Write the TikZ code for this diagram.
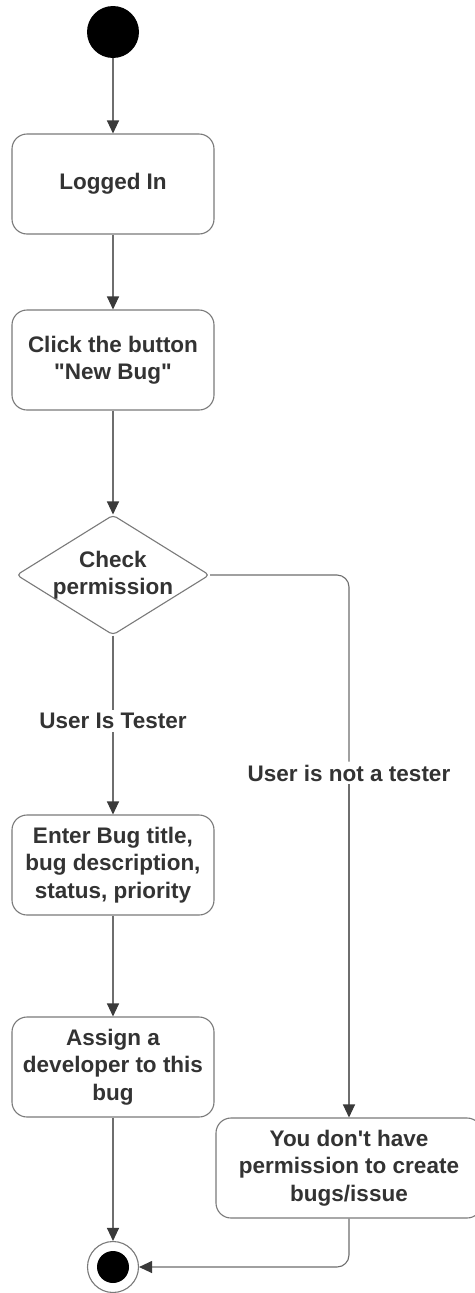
\documentclass[tikz,border=0pt]{standalone}
\usepackage{fontspec}
\setmainfont{Liberation Sans}
\usetikzlibrary{shapes.geometric,arrows.meta,calc}
\definecolor{linec}{HTML}{6E6E6E}
\definecolor{boxc}{HTML}{7A7A7A}
\definecolor{txtc}{HTML}{333333}
\definecolor{tipc}{HTML}{3A3A3A}
\tikzset{
  actbox/.style={draw=boxc, line width=1.1pt, rounded corners=15pt, fill=white,
    minimum width=202pt, minimum height=100pt, align=center, inner sep=2pt,
    text=txtc, font=\fontsize{22.5}{27.5}\selectfont\bfseries},
  decbox/.style={draw=boxc, line width=1.1pt, shape=diamond, rounded corners=4pt, fill=white,
    shape aspect=1.6, minimum width=193pt, minimum height=120pt, inner sep=-30pt, align=center,
    text=txtc, font=\fontsize{22.5}{27.5}\selectfont\bfseries},
  guard/.style={fill=white, text=txtc, inner sep=3pt, font=\fontsize{22.5}{27}\selectfont\bfseries},
  flow/.style={draw=linec, line width=1.1pt, -{Triangle[length=13pt,width=12pt,color=tipc]}},
  flowplain/.style={draw=linec, line width=1.1pt},
}
\begin{document}
\begin{tikzpicture}[x=1pt,y=-1pt]
\useasboundingbox[fill=white] (0,0) rectangle (474,1293);
\node[circle, fill=black, minimum size=52pt, inner sep=0pt] (start) at (113,32) {};
\node[actbox] (logged) at (113,184) {Logged In};
\node[actbox] (click) at (113,360) {Click the button\\\textquotedbl New Bug\textquotedbl};
\node[decbox] (check) at (113,575) {Check\\permission};
\node[guard] (gyes) at (113,721) {User Is Tester};
\node[guard] (gno) at (349,773) {User is not a tester};
\node[actbox] (enter) at (113,865) {Enter Bug title,\\bug description,\\status, priority};
\node[actbox] (assign) at (113,1067) {Assign a\\developer to this\\bug};
\node[actbox, minimum width=266pt] (nope) at (349,1168) {You don\textquotesingle t have\\permission to create\\bugs/issue};
\node[circle, draw=boxc, line width=1.1pt, fill=white, minimum size=51pt, inner sep=0pt] (end) at (113,1267) {};
\fill[black] (end.center) circle[radius=16pt];
\coordinate (turnA) at (349,575);
\coordinate (turnB) at (349,1267);

\draw[flow] (start) -- (logged);
\draw[flow] (logged) -- (click);
\draw[flow] (click) -- (check);
\draw[flowplain] (check.south) -- (gyes.north);
\draw[flow] (gyes.south) -- (enter.north);
\draw[flowplain, rounded corners=12pt] (check.east) -- (turnA) -- (gno.north);
\draw[flow] (gno.south) -- (nope.north);
\draw[flow] (enter) -- (assign);
\draw[flow] (assign) -- (end);
\draw[flow, rounded corners=12pt] (nope.south) -- (turnB) -- (end.east);
\end{tikzpicture}
\end{document}
